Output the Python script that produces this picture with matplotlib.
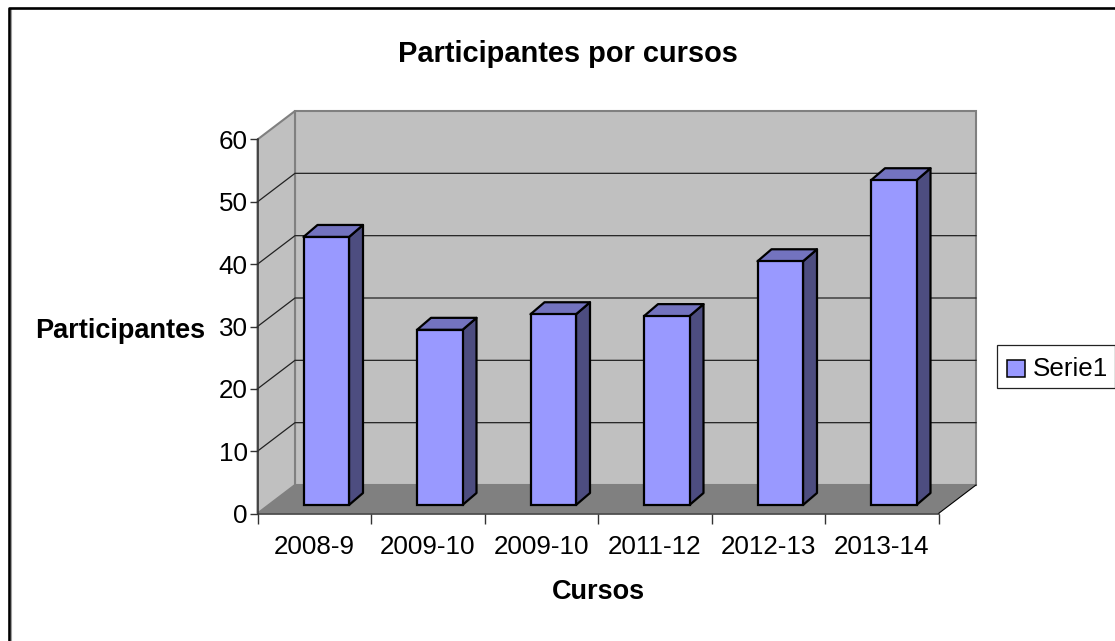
import matplotlib
matplotlib.use("Agg")
import matplotlib.pyplot as plt
from matplotlib.patches import Polygon, Rectangle

plt.rcParams["font.family"] = ["Liberation Sans", "DejaVu Sans"]

# data
cursos = ["2008-9", "2009-10", "2009-10", "2011-12", "2012-13", "2013-14"]
participantes = [43, 28.1, 30.6, 30.3, 39.1, 52.1]
y_ticks = [0, 10, 20, 30, 40, 50, 60]

W, H = 1115, 641

# front plane of the chart in pixels
LEFT, RIGHT, TOP, BOTTOM = 257.5, 938.5, 139.5, 513.5
X_UNIT = (RIGHT - LEFT) / len(cursos)
Y_UNIT = (BOTTOM - TOP) / 60

# depth of the box and of the bars, in data units
BOX_DX, BOX_DY = 37.5 / X_UNIT, 28.5 / Y_UNIT
BAR_DX, BAR_DY = 14 / X_UNIT, 12 / Y_UNIT
SHIFT_X, SHIFT_Y = 12 / X_UNIT, 8.5 / Y_UNIT
BAR_W = 45.5 / X_UNIT

fig = plt.figure(figsize=(W / 100, H / 100), dpi=100, facecolor="white")
ax = fig.add_axes([LEFT / W, 1 - BOTTOM / H, (RIGHT - LEFT) / W, (BOTTOM - TOP) / H])
ax.set_xlim(-0.5, len(cursos) - 0.5)
ax.set_ylim(0, 60)
ax.patch.set_visible(False)

x0, x1 = -0.5, len(cursos) - 0.5

# walls and floor
ax.add_patch(Polygon([(x0 + BOX_DX, BOX_DY), (x1 + BOX_DX, BOX_DY), (x1 + BOX_DX, 60 + BOX_DY), (x0 + BOX_DX, 60 + BOX_DY)],
                     fc="#C0C0C0", ec="#808080", lw=1.5, clip_on=False, zorder=1))
ax.add_patch(Polygon([(x0, 0), (x0 + BOX_DX, BOX_DY), (x0 + BOX_DX, 60 + BOX_DY), (x0, 60)],
                     fc="#C0C0C0", ec="#808080", lw=1.5, clip_on=False, zorder=1))
ax.add_patch(Polygon([(x0, 0), (x1, 0), (x1 + BOX_DX, BOX_DY), (x0 + BOX_DX, BOX_DY)],
                     fc="#808080", ec="none", clip_on=False, zorder=2))
ax.plot([x1, x1 + BOX_DX], [0, BOX_DY], color="black", lw=0.8, clip_on=False, zorder=2)

# gridlines, left wall then back wall
for v in y_ticks[1:-1]:
    ax.plot([x0, x0 + BOX_DX, x1 + BOX_DX], [v, v + BOX_DY, v + BOX_DY], color="#222222", lw=0.9,
            clip_on=False, zorder=2, solid_joinstyle="miter")

# bars
for i, v in enumerate(participantes):
    l = i - BAR_W / 2 + SHIFT_X
    r = i + BAR_W / 2 + SHIFT_X
    b = SHIFT_Y
    t = v + SHIFT_Y
    ax.add_patch(Polygon([(r, b), (r + BAR_DX, b + BAR_DY), (r + BAR_DX, t + BAR_DY), (r, t)],
                         fc="#4D4D80", ec="black", lw=1.6, clip_on=False, zorder=3, joinstyle="round"))
    ax.add_patch(Polygon([(l, t), (r, t), (r + BAR_DX, t + BAR_DY), (l + BAR_DX, t + BAR_DY)],
                         fc="#7373BF", ec="black", lw=1.6, clip_on=False, zorder=3, joinstyle="round"))
    ax.add_patch(Rectangle((l, b), r - l, t - b, fc="#9999FF", ec="black", lw=1.6, clip_on=False, zorder=4))

# axes
for s in ["top", "right"]:
    ax.spines[s].set_visible(False)
for s in ["left", "bottom"]:
    ax.spines[s].set_color("#333333")
    ax.spines[s].set_linewidth(1.1)
    ax.spines[s].set_zorder(5)
ax.set_yticks(y_ticks)
ax.set_xticks([x0 + i for i in range(len(cursos) + 1)])
ax.set_xticklabels([""] * (len(cursos) + 1))
ax.tick_params(axis="y", length=6, width=1, color="#333333", labelsize=18.7, pad=1)
ax.tick_params(axis="x", length=7, width=1, color="#333333")
for i, c in enumerate(cursos):
    ax.annotate(c, xy=(i, 0), xycoords=("data", "axes fraction"), xytext=(0, -33 / 100 * 72),
                textcoords="offset points", ha="center", va="center", fontsize=18.7, color="black")

# titles
fig.text(568 / W, 1 - 54 / H, "Participantes por cursos", ha="center", va="center", fontsize=20.9, fontweight="bold")
fig.text(120 / W, 1 - 331 / H, "Participantes", ha="center", va="center", fontsize=19.5, fontweight="bold")
fig.text(598.5 / W, 1 - 592 / H, "Cursos", ha="center", va="center", fontsize=19.5, fontweight="bold")

# legend box
fig.add_artist(Rectangle((997 / W, 1 - 387.5 / H), 118 / W, 42.5 / H, fc="white", ec="#222222", lw=0.9, transform=fig.transFigure))
fig.add_artist(Rectangle((1007 / W, 1 - 377 / H), 18 / W, 17 / H, fc="#9999FF", ec="black", lw=1.1, transform=fig.transFigure))
fig.text(1033 / W, 1 - 369 / H, "Serie1", ha="left", va="center", fontsize=18.7)

# outer border, with the thin grey edge inside the left side
fig.add_artist(plt.Line2D([10.5 / W, 10.5 / W], [0, 1 - 9 / H], color="#A0A0A0", lw=0.8, transform=fig.transFigure))
fig.add_artist(plt.Line2D([9 / W, 9 / W, 1], [0, 1 - 8 / H, 1 - 8 / H], color="black", lw=1.9, transform=fig.transFigure))

fig.savefig("out.png", dpi=100)
